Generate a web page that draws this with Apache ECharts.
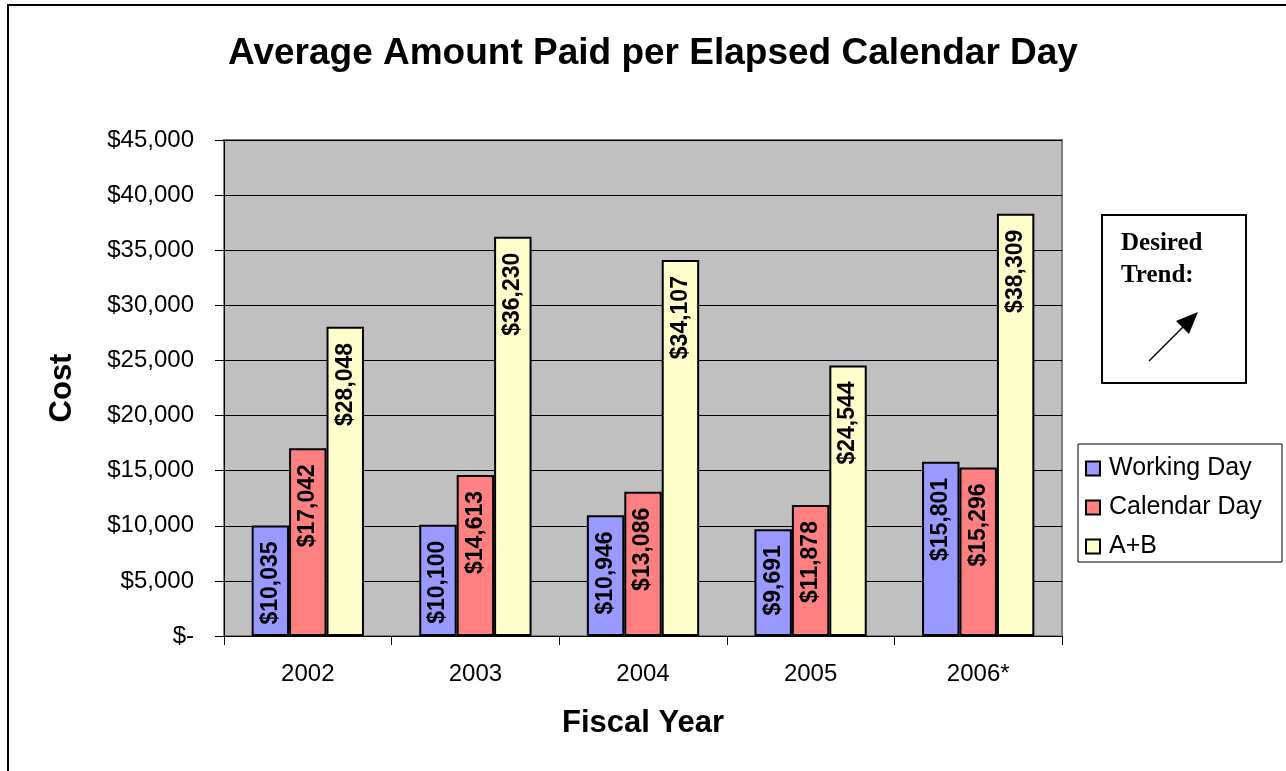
<!DOCTYPE html>
<html>
<head>
<meta charset="utf-8">
<script src="https://cdn.jsdelivr.net/npm/echarts@6/dist/echarts.min.js"></script>
<style>
html,body{margin:0;padding:0;background:#fff;}
#chart{width:1286px;height:771px;}
</style>
</head>
<body>
<div id="chart"></div>
<script>
const categories = ['2002', '2003', '2004', '2005', '2006*'];
const workingDay = [10035, 10100, 10946, 9691, 15801];
const calendarDay = [17042, 14613, 13086, 11878, 15296];
const aPlusB = [28048, 36230, 34107, 24544, 38309];
const seriesNames = ['Working Day', 'Calendar Day', 'A+B'];
const yTicks = [0, 5000, 10000, 15000, 20000, 25000, 30000, 35000, 40000, 45000];

const FONT = '"Liberation Sans", Arial, sans-serif';
const chart = echarts.init(document.getElementById('chart'), null, {renderer: 'canvas'});

function money(v) {
  return '$' + v.toLocaleString('en-US');
}

const labelCfg = {
  show: true,
  position: 'insideTop',
  distance: 16,
  rotate: 90,
  align: 'right',
  verticalAlign: 'middle',
  fontFamily: FONT,
  fontWeight: 'bold',
  fontSize: 23,
  color: '#000',
  formatter: p => money(p.value)
};

function barSeries(name, data, color) {
  return {
    name: name,
    type: 'bar',
    data: data,
    barGap: '0%',
    barCategoryGap: '33%',
    itemStyle: {color: color, borderColor: '#000', borderWidth: 2},
    label: labelCfg,
    emphasis: {disabled: true}
  };
}

const option = {
  animation: false,
  backgroundColor: '#fff',
  title: {
    text: 'Average Amount Paid per Elapsed Calendar Day',
    left: 648, top: 30, textAlign: 'center',
    textStyle: {fontFamily: FONT, fontWeight: 'bold', fontSize: 37, color: '#000'}
  },
  legend: {
    orient: 'vertical',
    left: 1085, top: 456,
    itemWidth: 14, itemHeight: 14,
    itemGap: 14,
    padding: 0,
    icon: 'rect',
    data: seriesNames,
    textStyle: {fontFamily: FONT, fontSize: 25, color: '#000', padding: [0, 0, 0, 4]},
    itemStyle: {borderColor: '#000', borderWidth: 2}
  },
  grid: {
    left: 224, right: 224, top: 140, bottom: 135,
    show: true, backgroundColor: '#C0C0C0', borderColor: '#808080', borderWidth: 2,
    containLabel: false
  },
  xAxis: {
    type: 'category',
    data: categories,
    name: 'Fiscal Year',
    nameLocation: 'middle',
    nameGap: 72,
    nameTextStyle: {fontFamily: FONT, fontWeight: 'bold', fontSize: 31, color: '#000'},
    axisLine: {lineStyle: {color: '#000', width: 1}},
    axisTick: {show: true, length: 9, lineStyle: {color: '#000'}},
    axisLabel: {fontFamily: FONT, fontSize: 24, color: '#000', margin: 26}
  },
  yAxis: {
    type: 'value',
    min: 0, max: 45000, interval: 5000,
    name: 'Cost',
    nameLocation: 'middle',
    nameGap: 146,
    nameRotate: 90,
    nameTextStyle: {fontFamily: FONT, fontWeight: 'bold', fontSize: 31, color: '#000'},
    axisLine: {show: true, lineStyle: {color: '#000', width: 1}},
    axisTick: {show: true, length: 9, lineStyle: {color: '#000'}},
    splitLine: {show: true, lineStyle: {color: '#000', width: 1}},
    axisLabel: {
      fontFamily: FONT, fontSize: 24, color: '#000', margin: 30,
      formatter: v => (yTicks.indexOf(v) >= 0 ? (v === 0 ? '$-' : money(v)) : '')
    }
  },
  series: [
    barSeries(seriesNames[0], workingDay, '#9999FF'),
    barSeries(seriesNames[1], calendarDay, '#FF8080'),
    barSeries(seriesNames[2], aPlusB, '#FFFFCC')
  ],
  graphic: [
    {type: 'rect', shape: {x: 8, y: 5, width: 1300, height: 800},
     style: {fill: 'none', stroke: '#000', lineWidth: 2}, z: 100},
    {type: 'rect', shape: {x: 1078, y: 444, width: 204, height: 118},
     style: {fill: 'none', stroke: '#000', lineWidth: 1}, z: 100},
    {type: 'rect', shape: {x: 1102, y: 215, width: 144, height: 168},
     style: {fill: '#fff', stroke: '#000', lineWidth: 2}, z: 100},
    {type: 'text', x: 1121, y: 228, z: 101,
     style: {text: 'Desired\nTrend:', fill: '#000', font: 'bold 25px "Liberation Serif", "Times New Roman", serif', lineHeight: 32}},
    {type: 'line', shape: {x1: 1149, y1: 361, x2: 1186, y2: 324}, z: 101,
     style: {stroke: '#000', lineWidth: 1.5}},
    {type: 'polygon', shape: {points: [[1198, 312], [1176, 321], [1189, 334]]}, z: 101,
     style: {fill: '#000'}}
  ]
};
chart.setOption(option);
</script>
</body>
</html>
